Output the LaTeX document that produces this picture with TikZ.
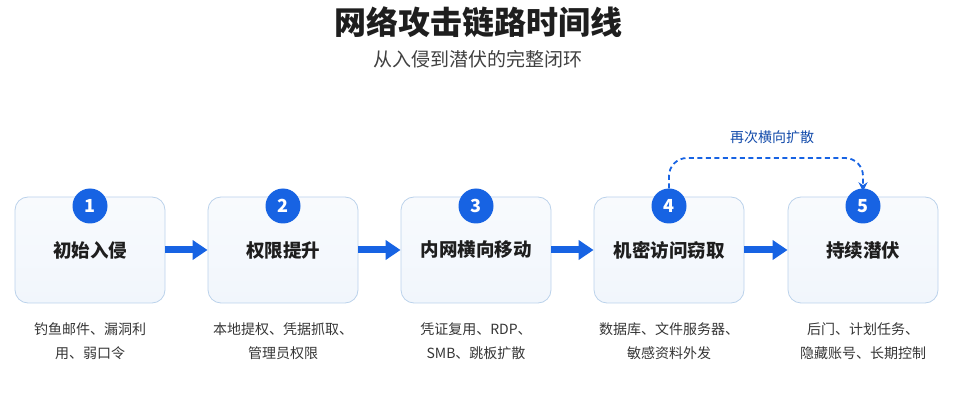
\documentclass[tikz,border=0pt]{standalone}
\usepackage{fontspec}
\setmainfont{Noto Sans CJK SC}
\newfontfamily\cjk{Noto Sans CJK SC}
\usetikzlibrary{arrows.meta,positioning,calc}
\definecolor{mainblue}{HTML}{1763E3}
\definecolor{boxfill}{HTML}{F1F6FC}
\definecolor{boxline}{HTML}{BBD2EB}
\definecolor{txt}{HTML}{1E1E1E}
\tikzset{
  stagebox/.style={draw=boxline, line width=0.8pt, top color=boxfill!50!white, bottom color=boxfill, rounded corners=13pt, minimum width=150pt, minimum height=106pt, inner sep=0pt},
  numdot/.style={circle, fill=mainblue, minimum size=35pt, inner sep=0pt, text=white, font=\cjk\bfseries\fontsize{18}{20}\selectfont},
  stagetitle/.style={font=\cjk\bfseries\fontsize{18.5}{22}\selectfont, text=txt},
  desc/.style={font=\cjk\fontsize{14}{24}\selectfont, text=txt!90, align=center},
  flowarrow/.style={draw=mainblue, line width=7pt, -{Triangle[length=15pt,width=19pt]}, shorten >=0pt},
  loopback/.style={draw=mainblue, line width=1.8pt, dashed, dash pattern=on 5pt off 3.5pt, rounded corners=18pt, -{Stealth[length=9pt,width=9pt]}}
}
\begin{document}
\begin{tikzpicture}[x=1pt,y=-1pt]
\useasboundingbox (0,0) rectangle (969,403);
\node[font=\cjk\bfseries\fontsize{32}{36}\selectfont, text=txt] (title) at (478,22) {网络攻击链路时间线};
\node[font=\cjk\fontsize{19}{22}\selectfont, text=txt!85] (subtitle) at (478,59) {从入侵到潜伏的完整闭环};

\node[stagebox] (b1) at (90,250) {};
\node[stagebox] (b2) at (283,250) {};
\node[stagebox] (b3) at (476,250) {};
\node[stagebox] (b4) at (669,250) {};
\node[stagebox] (b5) at (863,250) {};

\node[stagetitle] (t1) at (b1) {初始入侵};
\node[stagetitle] (t2) at (b2) {权限提升};
\node[stagetitle] (t3) at (b3) {内网横向移动};
\node[stagetitle] (t4) at (b4) {机密访问窃取};
\node[stagetitle] (t5) at (b5) {持续潜伏};

\node[numdot] (n1) at (90,206) {1};
\node[numdot] (n2) at (283,206) {2};
\node[numdot] (n3) at (476,206) {3};
\node[numdot] (n4) at (669,206) {4};
\node[numdot] (n5) at (863,206) {5};

\node[desc] (d1) at (90,341) {钓鱼邮件、漏洞利\\用、弱口令};
\node[desc] (d2) at (283,341) {本地提权、凭据抓取、\\管理员权限};
\node[desc] (d3) at (476,341) {凭证复用、RDP、\\SMB、跳板扩散};
\node[desc] (d4) at (669,341) {数据库、文件服务器、\\敏感资料外发};
\node[desc] (d5) at (863,341) {后门、计划任务、\\隐藏账号、长期控制};

\draw[flowarrow] (b1.east) -- (b2.west);
\draw[flowarrow] (b2.east) -- (b3.west);
\draw[flowarrow] (b3.east) -- (b4.west);
\draw[flowarrow] (b4.east) -- (b5.west);

\coordinate (c4) at (669,158);
\coordinate (c5) at (863,158);
\draw[loopback] (n4.north) -- (c4) -- (c5) -- ([yshift=-3pt]n5.north);
\node[font=\cjk\fontsize{14}{16}\selectfont, text=mainblue!75!black] (looplabel) at (772,137) {再次横向扩散};
\end{tikzpicture}
\end{document}
